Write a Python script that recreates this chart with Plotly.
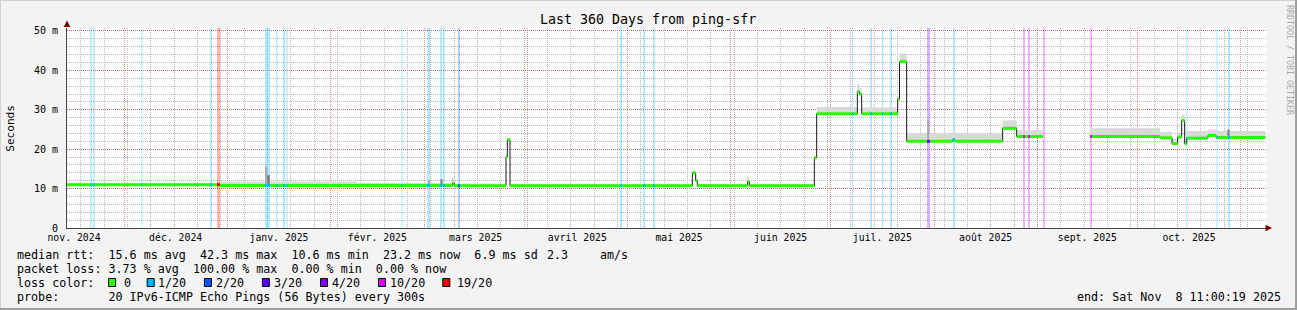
import pandas as pd
import plotly.graph_objects as go

# ---------------- data ----------------
x_range = ["2024-11-13 21:36", "2025-11-08 21:36"]

seg_start = ["2024-11-13 21:36", "2024-12-29 19:12", "2025-02-08 21:36", "2025-03-09 14:24", "2025-03-10 02:24",
             "2025-03-25 14:24", "2025-03-26 00:00", "2025-03-26 19:12", "2025-05-20 12:00", "2025-05-21 12:00",
             "2025-05-22 00:00", "2025-06-06 02:24", "2025-06-06 14:24", "2025-06-26 02:24", "2025-06-26 19:12",
             "2025-07-09 00:00", "2025-07-09 14:24", "2025-07-10 07:12", "2025-07-21 02:24", "2025-07-21 15:36",
             "2025-07-23 19:12", "2025-08-06 12:00", "2025-08-07 07:12", "2025-08-21 14:24", "2025-08-25 19:12",
             "2025-09-16 19:12", "2025-10-07 19:12", "2025-10-11 09:36", "2025-10-13 02:24", "2025-10-14 07:12",
             "2025-10-15 04:48", "2025-10-15 19:12", "2025-10-22 04:48", "2025-10-24 14:24"]
seg_end = ["2024-12-29 19:12", "2025-02-08 21:36", "2025-03-09 14:24", "2025-03-10 02:24", "2025-03-25 14:24",
           "2025-03-26 00:00", "2025-03-26 19:12", "2025-05-20 12:00", "2025-05-21 12:00", "2025-05-22 00:00",
           "2025-06-06 02:24", "2025-06-06 14:24", "2025-06-26 02:24", "2025-06-26 19:12", "2025-07-09 00:00",
           "2025-07-09 14:24", "2025-07-10 07:12", "2025-07-21 02:24", "2025-07-21 15:36", "2025-07-23 19:12",
           "2025-08-06 12:00", "2025-08-07 07:12", "2025-08-21 14:24", "2025-08-25 19:12", "2025-09-02 14:24",
           "2025-10-07 19:12", "2025-10-11 09:36", "2025-10-13 02:24", "2025-10-14 07:12", "2025-10-15 04:48",
           "2025-10-15 19:12", "2025-10-22 04:48", "2025-10-24 14:24", "2025-11-08 09:36"]
seg_median_ms = [11.0, 10.8, 10.8, 11.4, 10.7, 18.1, 22.4, 10.7, 14.0, 12.0,
                 10.7, 11.8, 10.7, 17.8, 29.0, 34.6, 34.0, 29.0, 32.7, 42.2,
                 22.0, 22.4, 22.0, 25.3, 23.2, 23.2, 22.9, 21.4, 23.1, 27.3,
                 21.4, 22.8, 23.5, 23.0]
seg_smoke_top_ms = [11.35, 11.8, 11.5, 12.8, 11.3, 18.5, 22.9, 11.2, 14.5, 12.5,
                    11.2, 13.0, 11.2, 18.2, 30.7, 36.5, 35.6, 30.6, 33.3, 44.3,
                    24.0, 24.2, 23.9, 27.3, 24.8, 25.3, 24.4, 22.6, 24.3, 28.7,
                    22.6, 24.6, 25.0, 24.6]

light_spike_time = ["2025-01-12 16:48", "2025-03-02 12:00", "2025-07-30 06:00"]
light_spike_days = [0.35, 0.6, 0.6]
light_spike_top = [15.6, 12.1, 27.4]
dark_spike_time = ["2025-01-13 08:24", "2025-03-06 06:00", "2025-10-28 08:24"]
dark_spike_days = [0.75, 0.6, 0.6]
dark_spike_top = [13.4, 12.4, 25.0]

loss_time = ["2024-11-21 02:24", "2024-11-22 00:00", "2024-12-06 09:36", "2024-12-27 02:24", "2024-12-29 08:24",
             "2025-01-13 01:12", "2025-01-15 21:36", "2025-01-18 00:00", "2025-01-18 21:36", "2025-02-22 09:36",
             "2025-03-02 08:24", "2025-03-06 02:24", "2025-03-07 00:00", "2025-03-11 12:00", "2025-04-29 02:24",
             "2025-05-06 00:00", "2025-05-09 00:00", "2025-07-07 13:12", "2025-07-13 02:24", "2025-07-16 13:12",
             "2025-07-19 02:24", "2025-07-30 08:24", "2025-08-07 00:00", "2025-08-28 00:00", "2025-08-29 12:00",
             "2025-09-03 00:00", "2025-09-17 02:24", "2025-10-15 21:36", "2025-10-24 21:36", "2025-10-28 12:00"]
loss_days = [0.5, 0.5, 0.35, 0.6, 0.9, 1.5, 0.35, 0.6, 0.35, 0.35,
             0.9, 0.6, 0.6, 0.6, 0.6, 0.6, 0.6, 0.35, 0.6, 0.35,
             0.6, 0.9, 0.6, 0.6, 0.6, 0.6, 0.6, 0.35, 0.35, 0.6]
loss_of_20 = [1, 1, 1, 1, 19, 1, 1, 1, 1, 1,
              1, 1, 1, 2, 1, 1, 1, 1, 1, 1,
              1, 4, 1, 10, 10, 10, 10, 1, 1, 1]

month_labels = ["nov. 2024", "déc. 2024", "janv. 2025", "févr. 2025", "mars 2025", "avril 2025",
                "mai 2025", "juin 2025", "juil. 2025", "août 2025", "sept. 2025", "oct. 2025"]
y_tick_vals = [0, 10, 20, 30, 40, 50]
y_tick_text = ["0", "10 m", "20 m", "30 m", "40 m", "50 m"]

legend_keys = [0, 1, 2, 3, 4, 10, 19]
legend_labels = ["0", "1/20", "2/20", "3/20", "4/20", "10/20", "19/20"]

# ---------------- styling / layout ----------------
FONT = "DejaVu Sans Mono"
W, H = 1297, 310
L, R, T, B = 67, 30, 28, 82
PW, PH = W - L - R, H - T - B
Y_TOP = 50.76
GREEN = "#26ff00"
LOSS_COLORS = {0: GREEN, 1: "#00b8ff", 2: "#0059ff", 3: "#5e00ff", 4: "#7e00ff", 10: "#dd00ff", 19: "#ff0000"}
MAJOR = "rgba(215,70,70,0.6)"
MINOR = "#b9b9b9"
DASH = "1px,1px"
DAY_MS = 86400000.0


def px(xp):
    return (xp - L) / PW


def py(yp):
    return (H - B - yp) / PH


def rgba(hexc, a):
    h = hexc.lstrip("#")
    return "rgba(%d,%d,%d,%.2f)" % (int(h[0:2], 16), int(h[2:4], 16), int(h[4:6], 16), a)


def nb(s):
    return s.replace(" ", "\u00a0")


ss = pd.to_datetime(seg_start)
se = pd.to_datetime(seg_end)


def median_at(t):
    t = pd.Timestamp(t)
    for s, e, m in zip(ss, se, seg_median_ms):
        if s <= t < e:
            return m
    return None


fig = go.Figure()

# loss background bars (main x axis, drawn below everything)
lt = pd.to_datetime(loss_time)
fig.add_trace(go.Bar(
    x=lt, y=[Y_TOP] * len(lt), base=0,
    width=[d * DAY_MS for d in loss_days],
    marker=dict(color=[rgba(LOSS_COLORS[k], 0.3) for k in loss_of_20], line=dict(width=0)),
    xaxis="x", yaxis="y", hoverinfo="skip", showlegend=False))

# smoke (ping spread) as bars from median up to max
centers = ss + (se - ss) / 2
fig.add_trace(go.Bar(
    x=centers, base=seg_median_ms,
    y=[t - m for t, m in zip(seg_smoke_top_ms, seg_median_ms)],
    width=[(e - s).total_seconds() * 1000 for s, e in zip(ss, se)],
    marker=dict(color="#d9d9d9", line=dict(width=0)),
    xaxis="x2", yaxis="y", hoverinfo="skip", showlegend=False))

for times, days, tops, col in [(light_spike_time, light_spike_days, light_spike_top, "#ababab"),
                               (dark_spike_time, dark_spike_days, dark_spike_top, "#7a7a7a")]:
    tt = pd.to_datetime(times)
    bases = [median_at(t) for t in tt]
    fig.add_trace(go.Bar(
        x=tt, base=bases, y=[tp - b for tp, b in zip(tops, bases)],
        width=[d * DAY_MS for d in days],
        marker=dict(color=col, line=dict(width=0)),
        xaxis="x2", yaxis="y", hoverinfo="skip", showlegend=False))

# black median line with vertical steps
bx, by = [], []
for i in range(len(ss)):
    if i > 0 and ss[i] != se[i - 1]:
        bx.append(None)
        by.append(None)
    bx += [ss[i], se[i]]
    by += [seg_median_ms[i], seg_median_ms[i]]
fig.add_trace(go.Scatter(x=bx, y=by, mode="lines", line=dict(color="#1a1a1a", width=1),
                         connectgaps=False, xaxis="x2", yaxis="y", hoverinfo="skip", showlegend=False))

# loss-coloured median band (green = no loss)
gx, gy = [], []
for i in range(len(ss)):
    gx += [ss[i], se[i], None]
    gy += [seg_median_ms[i], seg_median_ms[i], None]
fig.add_trace(go.Scatter(x=gx, y=gy, mode="lines", line=dict(color=GREEN, width=3),
                         connectgaps=False, xaxis="x2", yaxis="y", hoverinfo="skip", showlegend=False))

for lvl in sorted(set(loss_of_20)):
    lx, ly = [], []
    for t, d, k in zip(lt, loss_days, loss_of_20):
        if k != lvl:
            continue
        m = median_at(t)
        if m is None:
            continue
        half = pd.Timedelta(days=d / 2)
        lx += [t - half, t + half, None]
        ly += [m, m, None]
    if lx:
        fig.add_trace(go.Scatter(x=lx, y=ly, mode="lines", line=dict(color=LOSS_COLORS[lvl], width=3),
                                 xaxis="x2", yaxis="y", hoverinfo="skip", showlegend=False))

# axis tick positions
month_starts = pd.date_range("2024-12-01", "2025-11-01", freq="MS")
all_months = pd.date_range("2024-11-01", "2025-11-01", freq="MS")
month_mids = [all_months[i] + (all_months[i + 1] - all_months[i]) / 2 for i in range(len(month_labels))]
mondays = pd.date_range("2024-11-18", "2025-11-08", freq="7D")

fig.update_layout(
    width=W, height=H,
    margin=dict(l=L, r=R, t=T, b=B, pad=0),
    paper_bgcolor="#f3f3f3", plot_bgcolor="#ffffff",
    barmode="overlay", showlegend=False,
    font=dict(family=FONT, size=10, color="#000000"),
    xaxis=dict(type="date", range=x_range, tickmode="array", tickvals=month_starts,
               showticklabels=False, ticks="", showgrid=True, gridcolor=MAJOR, griddash=DASH, gridwidth=1,
               minor=dict(tickmode="array", tickvals=mondays, showgrid=True, gridcolor=MINOR,
                          griddash=DASH, gridwidth=1, ticks=""),
               showline=True, linecolor="#444444", linewidth=1, zeroline=False, fixedrange=True),
    xaxis2=dict(type="date", overlaying="x", anchor="y", side="bottom", range=x_range,
                tickmode="array", tickvals=month_mids, ticktext=month_labels,
                showgrid=False, ticks="", showline=False, zeroline=False,
                tickfont=dict(family=FONT, size=9.8, color="#000000"), ticklabelstandoff=2),
    yaxis=dict(range=[0, Y_TOP], tickmode="array", tickvals=y_tick_vals, ticktext=y_tick_text,
               showgrid=True, gridcolor=MAJOR, griddash=DASH, gridwidth=1,
               minor=dict(tickmode="linear", tick0=0, dtick=2, showgrid=True, gridcolor=MINOR,
                          griddash=DASH, gridwidth=1, ticks=""),
               showline=True, linecolor="#444444", linewidth=1, zeroline=False, ticks="",
               ticklabelstandoff=6, tickfont=dict(family=FONT, size=10, color="#000000")),
)

ann = []
ann.append(dict(text="Last 360 Days from ping-sfr", x=px(648), y=py(19.5), xanchor="center", yanchor="middle",
                font=dict(family=FONT, size=13.3, color="#000000")))
ann.append(dict(text="Seconds", x=px(10.5), y=py(128.3), textangle=-90, xanchor="center", yanchor="middle",
                font=dict(family=FONT, size=11.1, color="#000000")))
ann.append(dict(text="RRDTOOL / TOBI OETIKER", x=px(1290), y=py(60), textangle=90, xanchor="center",
                yanchor="middle", font=dict(family=FONT, size=8.3, color="#a8a8a8")))

LEG = dict(family=FONT, size=11.7, color="#000000")
rows = [254.5, 268.5, 282.5, 296.5]
ann.append(dict(text=nb("median rtt:  15.6 ms avg  42.3 ms max  10.6 ms min  23.2 ms now  6.9 ms sd"),
                x=px(16.6), y=py(rows[0]), xanchor="left", yanchor="middle", font=LEG))
ann.append(dict(text="2.3", x=px(547), y=py(rows[0]), xanchor="left", yanchor="middle", font=LEG))
ann.append(dict(text="am/s", x=px(600), y=py(rows[0]), xanchor="left", yanchor="middle", font=LEG))
ann.append(dict(text=nb("packet loss: 3.73 % avg  100.00 % max  0.00 % min  0.00 % now"),
                x=px(16.6), y=py(rows[1]), xanchor="left", yanchor="middle", font=LEG))
ann.append(dict(text=nb("loss color:"), x=px(16.6), y=py(rows[2]), xanchor="left", yanchor="middle", font=LEG))
ann.append(dict(text=nb("probe:       20 IPv6-ICMP Echo Pings (56 Bytes) every 300s"),
                x=px(16.6), y=py(rows[3]), xanchor="left", yanchor="middle", font=LEG))
ann.append(dict(text=nb("end: Sat Nov  8 11:00:19 2025"), x=px(1280.5), y=py(rows[3]),
                xanchor="right", yanchor="middle", font=LEG))

box_left = [108.6, 147.2, 204.4, 262.4, 320.5, 378.5, 442.8]
label_left = [123.5, 158.0, 216.0, 274.0, 332.0, 390.0, 457.3]
shapes = []
for k, lab, bl, tl in zip(legend_keys, legend_labels, box_left, label_left):
    shapes.append(dict(type="rect", xref="paper", yref="paper", x0=px(bl), x1=px(bl + 7),
                       y0=py(286.5), y1=py(278.5), fillcolor=LOSS_COLORS[k],
                       line=dict(color="#000000", width=1)))
    ann.append(dict(text=lab, x=px(tl), y=py(rows[2]), xanchor="left", yanchor="middle", font=LEG))

for a in ann:
    a.update(xref="paper", yref="paper", showarrow=False, borderpad=0, borderwidth=0)

# axis arrows
ann.append(dict(text="", xref="paper", yref="paper", x=px(67), y=py(20.5), ax=0, ay=8,
                showarrow=True, arrowhead=2, arrowsize=1.3, arrowwidth=1, arrowcolor="#7a0000", standoff=0))
ann.append(dict(text="", xref="paper", yref="paper", x=px(1272), y=py(228), ax=-6, ay=0,
                showarrow=True, arrowhead=2, arrowsize=1.3, arrowwidth=1, arrowcolor="#7a0000", standoff=0))

# frame
shapes += [
    dict(type="line", xref="paper", yref="paper", x0=px(0), x1=px(W), y0=py(0.5), y1=py(0.5),
         line=dict(color="#d2d2d2", width=1)),
    dict(type="line", xref="paper", yref="paper", x0=px(0.5), x1=px(0.5), y0=py(0), y1=py(H),
         line=dict(color="#d2d2d2", width=1)),
    dict(type="line", xref="paper", yref="paper", x0=px(0), x1=px(W), y0=py(H - 1), y1=py(H - 1),
         line=dict(color="#9f9f9f", width=2)),
    dict(type="line", xref="paper", yref="paper", x0=px(W - 1), x1=px(W - 1), y0=py(0), y1=py(H),
         line=dict(color="#9f9f9f", width=2)),
]

fig.update_layout(annotations=ann, shapes=shapes)
fig.write_html("out.html")
